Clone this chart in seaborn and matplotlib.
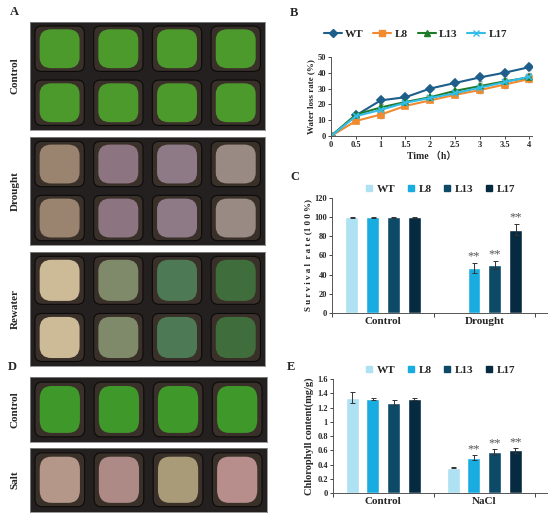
import numpy as np
import pandas as pd
import matplotlib
matplotlib.use("Agg")
import matplotlib.pyplot as plt
import seaborn as sns
from matplotlib.patches import FancyBboxPatch
from matplotlib.lines import Line2D

# Data
lines = ["WT", "L8", "L13", "L17"]
hours = [0, 0.5, 1, 1.5, 2, 2.5, 3, 3.5, 4]
wt_loss = [0, 13.0, 22.5, 24.5, 30.0, 33.5, 37.0, 40.0, 43.5]
l8_loss = [0, 9.5, 13.5, 19.0, 22.5, 26.0, 29.0, 32.5, 36.0]
l13_loss = [0, 13.5, 18.0, 21.5, 24.5, 28.5, 31.5, 34.5, 37.0]
l17_loss = [0, 12.5, 16.5, 21.0, 24.0, 27.0, 30.5, 34.0, 37.5]
loss_err = [0, 1.5, 2.0, 1.0, 1.0, 1.5, 2.0, 2.0, 2.0]

survival_groups = ["Control", "Drought"]
survival_ctrl = [100, 100, 100, 100]
survival_drought = [0, 47, 50, 87]
survival_ctrl_err = [0.5, 0.5, 0.5, 0.5]
survival_drought_err = [0, 5, 4, 6]
survival_stars = [None, None, None, None, None, "**", "**", "**"]

chl_groups = ["Control", "NaCl"]
chl_ctrl = [1.34, 1.32, 1.27, 1.32]
chl_nacl = [0.36, 0.50, 0.58, 0.60]
chl_ctrl_err = [0.08, 0.01, 0.03, 0.02]
chl_nacl_err = [0.01, 0.03, 0.04, 0.03]
chl_stars = [None, None, None, None, None, "**", "**", "**"]

line_colors = ["#1d5f8a", "#f28a30", "#1e7b2a", "#33bde8"]
line_markers = ["D", "s", "^", "x"]
bar_colors = ["#aee1f2", "#19ace0", "#0d4a68", "#062a40"]

SERIF = ["Liberation Serif", "Noto Sans CJK SC", "DejaVu Sans"]

sns.set_theme(style="white")
plt.rcParams["font.family"] = SERIF
plt.rcParams["font.weight"] = "bold"
plt.rcParams["axes.labelweight"] = "bold"

fig = plt.figure(figsize=(5.5, 5.17), dpi=100)


# Photo panels (placeholders drawn as pot trays)
def draw_tray(rect, rows, pot_colors, label):
    ax = fig.add_axes(rect)
    ax.set_facecolor("#23201f")
    ncol = len(pot_colors[0])
    ax.set_xlim(0, ncol)
    ax.set_ylim(0, rows)
    for r in range(rows):
        for c in range(ncol):
            ax.add_patch(FancyBboxPatch((c + 0.08, r + 0.08), 0.84, 0.84,
                                        boxstyle="round,pad=0,rounding_size=0.12",
                                        fc="#3a302a", ec="#0c0b0b", lw=0.8))
            ax.add_patch(FancyBboxPatch((c + 0.16, r + 0.14), 0.68, 0.72,
                                        boxstyle="round,pad=0,rounding_size=0.2",
                                        fc=pot_colors[rows - 1 - r][c], ec="none"))
    ax.set_xticks([])
    ax.set_yticks([])
    for s in ax.spines.values():
        s.set_color("#888888")
        s.set_linewidth(0.6)
    y_mid = rect[1] + rect[3] / 2
    fig.text(0.028, y_mid, label, rotation=90, ha="center", va="center",
             fontsize=8, fontweight="bold")


green = "#4c9a2c"
draw_tray([0.055, 0.749, 0.427, 0.209], 2, [[green] * 4, [green] * 4], "Control")
dry = ["#9a8470", "#8c7480", "#8e7a86", "#9a8a84"]
draw_tray([0.055, 0.526, 0.427, 0.209], 2, [dry, dry], "Drought")
rew = ["#cdbb98", "#7f8a6a", "#4d7a55", "#3f6e3c"]
draw_tray([0.055, 0.292, 0.427, 0.221], 2, [rew, rew], "Rewater")
draw_tray([0.055, 0.145, 0.43, 0.126], 1, [["#3f982a"] * 4], "Control")
draw_tray([0.055, 0.010, 0.43, 0.124], 1, [["#b5978a", "#ad8a86", "#a99a78", "#b88e8c"]], "Salt")

# Panel B: water loss rate
loss_df = pd.DataFrame({
    "Time": hours * 4,
    "Loss": wt_loss + l8_loss + l13_loss + l17_loss,
    "Line": [n for n in lines for _ in hours],
})
axb = fig.add_axes([0.602, 0.737, 0.365, 0.153])
for name, col, mk in zip(lines, line_colors, line_markers):
    sub = loss_df[loss_df["Line"] == name]
    axb.errorbar(sub["Time"], sub["Loss"], yerr=loss_err, fmt="none", ecolor="#999999",
                 elinewidth=0.6, capsize=1.5, zorder=1)
    sns.lineplot(data=sub, x="Time", y="Loss", color=col, marker=mk,
                 markersize=4.5, linewidth=1.5, markeredgewidth=1.2,
                 markeredgecolor=col, ax=axb)
axb.set_xlim(0, 4.05)
axb.set_ylim(0, 50)
axb.set_xticks(hours)
axb.set_xticklabels(["0", "0.5", "1", "1.5", "2", "2.5", "3", "3.5", "4"])
axb.set_yticks(range(0, 51, 10))
axb.set_xlabel("Time （h）", fontsize=7, labelpad=2)
axb.set_ylabel("Water loss rate (%)", fontsize=6.5, labelpad=2)
axb.tick_params(labelsize=6, length=2, width=0.6, pad=1.5, direction="out",
                bottom=True, left=True)
for side in ["top", "right"]:
    axb.spines[side].set_visible(False)
for side in ["left", "bottom"]:
    axb.spines[side].set_color("#555555")
    axb.spines[side].set_linewidth(0.7)
handles = [Line2D([0], [0], color=c, marker=m, markersize=4, lw=1.5)
           for c, m in zip(line_colors, line_markers)]
axb.legend(handles, lines, ncol=4, loc="lower center", bbox_to_anchor=(0.42, 1.17),
           frameon=False, fontsize=8, handlelength=1.6, columnspacing=0.9,
           handletextpad=0.3, borderaxespad=0)


def bar_panel(rect, groups, ctrl, treat, ctrl_err, treat_err, stars, ylim, yticks,
              yticklabels, ylabel, ylabel_size, star_off):
    ax = fig.add_axes(rect)
    df = pd.DataFrame({
        "Group": [groups[0]] * 4 + [groups[1]] * 4,
        "Line": lines * 2,
        "Value": ctrl + treat,
    })
    sns.barplot(data=df, x="Group", y="Value", hue="Line", hue_order=lines,
                palette=bar_colors, errorbar=None, gap=0.38, width=0.82,
                saturation=1, legend=False, ax=ax)
    bars = sorted(ax.patches, key=lambda p: p.get_x())
    errs = ctrl_err + treat_err
    for p, e, s in zip(bars, errs, stars):
        cx = p.get_x() + p.get_width() / 2
        h = p.get_height()
        if h > 0:
            ax.errorbar(cx, h, yerr=e, fmt="none", ecolor="#333333",
                        elinewidth=0.7, capsize=1.8, capthick=0.7)
        if s:
            ax.text(cx, h + e + star_off, s, ha="center", va="bottom",
                    fontsize=9, color="#555555", fontweight="normal")
    ax.set_xlim(-0.5, 1.62)
    ax.set_ylim(*ylim)
    ax.set_yticks(yticks)
    ax.set_yticklabels(yticklabels)
    ax.set_xticks([-0.5, 0.5, 1.5])
    ax.set_xticklabels([])
    ax.set_xticks([0, 1], minor=True)
    ax.set_xticklabels(groups, minor=True, fontsize=8)
    ax.tick_params(axis="x", which="minor", length=0, pad=3)
    ax.tick_params(axis="x", which="major", length=3, width=0.6, direction="out",
                   bottom=True)
    ax.tick_params(axis="y", labelsize=6, length=2, width=0.6, pad=1.5, left=True)
    ax.set_xlabel("")
    ax.set_ylabel(ylabel, fontsize=ylabel_size, labelpad=2)
    for side in ["top", "right"]:
        ax.spines[side].set_visible(False)
    for side in ["left", "bottom"]:
        ax.spines[side].set_color("#555555")
        ax.spines[side].set_linewidth(0.7)
    handles = [Line2D([0], [0], color=c, marker="s", lw=0, markersize=5)
               for c in bar_colors]
    ax.legend(handles, lines, ncol=4, loc="lower center", bbox_to_anchor=(0.5, 1.0),
              frameon=False, fontsize=8, handlelength=0.8, columnspacing=1.0,
              handletextpad=0.3, borderaxespad=0)
    return ax


bar_panel([0.604, 0.395, 0.391, 0.222], survival_groups, survival_ctrl, survival_drought,
          survival_ctrl_err, survival_drought_err, survival_stars,
          (0, 120), range(0, 121, 20), [str(v) for v in range(0, 121, 20)],
          "S u r v i v a l  r a t e (1 0 0 %)", 6.5, 0.5)

chl_ticks = [0, 0.2, 0.4, 0.6, 0.8, 1.0, 1.2, 1.4, 1.6]
bar_panel([0.605, 0.046, 0.389, 0.221], chl_groups, chl_ctrl, chl_nacl,
          chl_ctrl_err, chl_nacl_err, chl_stars,
          (0, 1.6), chl_ticks, [f"{v:g}" for v in chl_ticks],
          "Chlorophyll content(mg/g)", 7.5, 0.0)

# Panel letters
for letter, x, y in [("A", 10, 12), ("B", 290, 13), ("C", 290, 177),
                     ("D", 8, 367), ("E", 287, 367)]:
    fig.text(x / 550, 1 - y / 517, letter, ha="left", va="center",
             fontsize=9, fontweight="bold")

fig.savefig("out.png", dpi=100)
